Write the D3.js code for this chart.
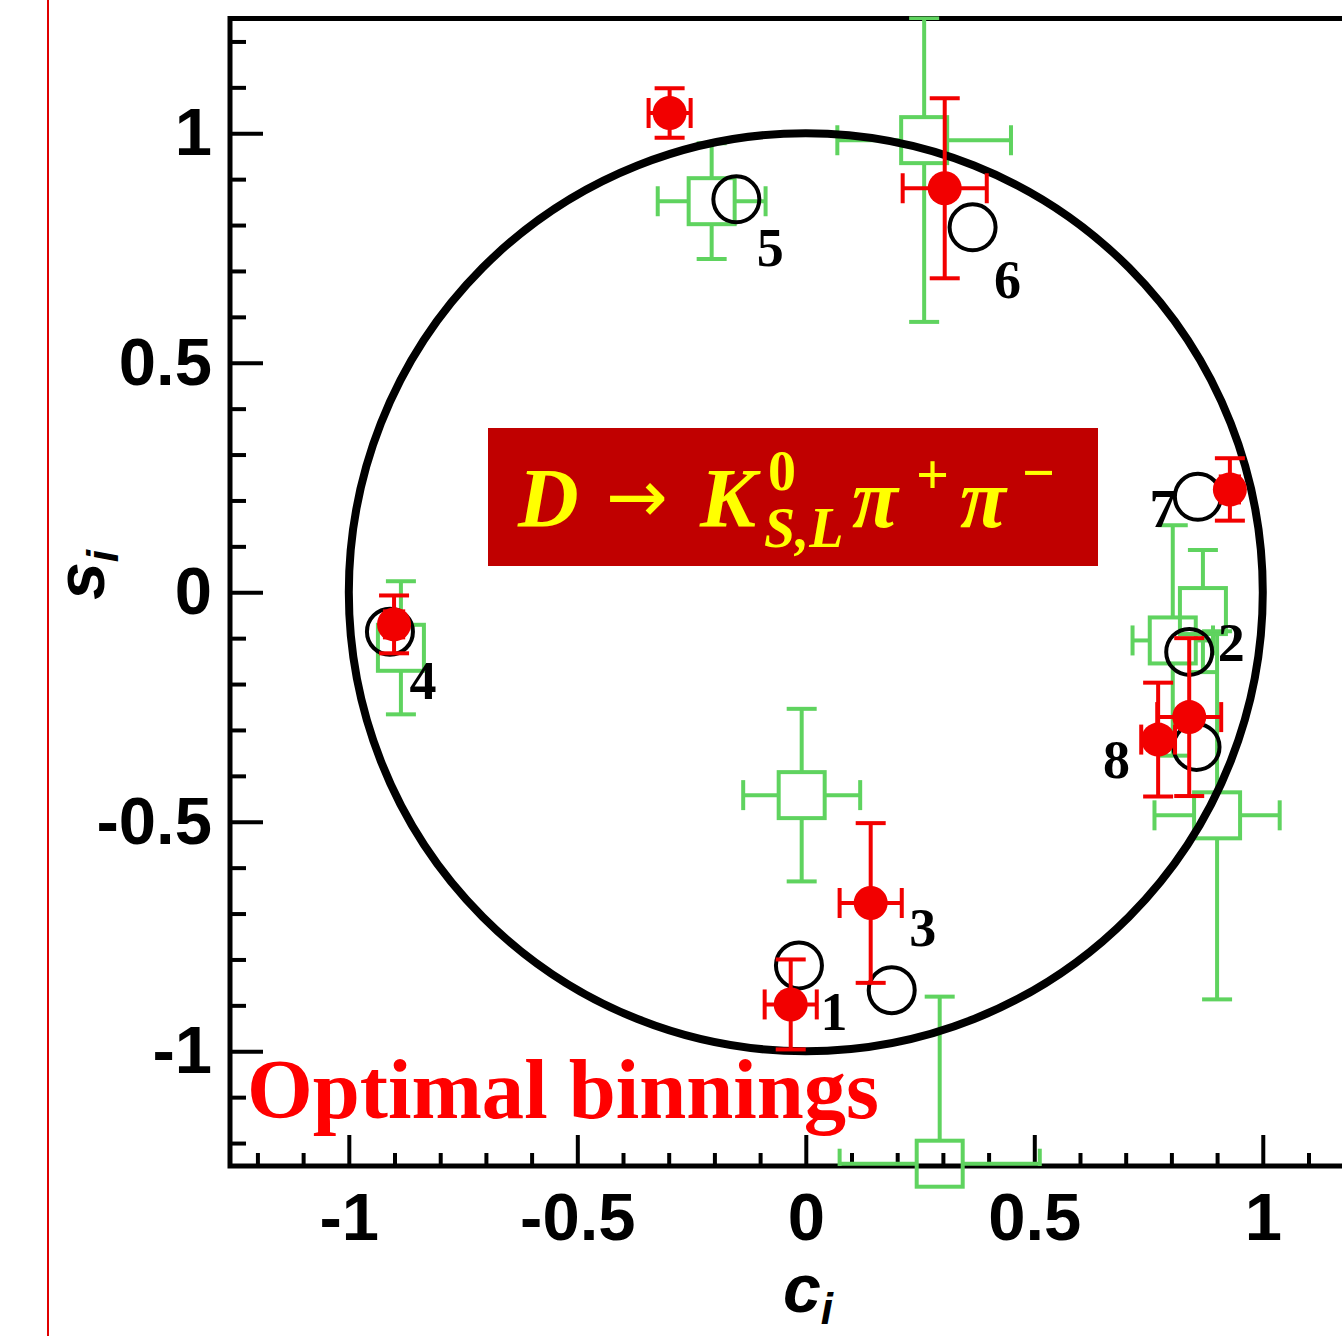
<!DOCTYPE html>
<html>
<head>
<meta charset="utf-8">
<script src="https://cdn.jsdelivr.net/npm/d3@7"></script>
<style>
  html, body { margin: 0; padding: 0; background: #fff; }
  svg { display: block; }
</style>
</head>
<body>
<svg id="chart" width="1342" height="1336"></svg>
<script>
// Bin numbers
const bins = [1, 2, 3, 4, 5, 6, 7, 8];

// Model expectation per bin (open black circles)
const modelC = [-0.015, 0.839, 0.188, -0.910, -0.152, 0.365, 0.858, 0.855];
const modelS = [-0.813, -0.130, -0.867, -0.086, 0.856, 0.795, 0.208, -0.337];

// Measurement with optimal binning (red filled circles)
const redC    = [-0.033, 0.839, 0.142, -0.901, -0.298, 0.304, 0.928, 0.771];
const redS    = [-0.898, -0.272, -0.677, -0.070, 1.044, 0.880, 0.224, -0.321];
const redCErr = [0.057, 0.070, 0.068, 0.020, 0.046, 0.092, 0.020, 0.037];
const redSErr = [0.098, 0.172, 0.174, 0.063, 0.054, 0.196, 0.068, 0.124];

// Earlier measurement (open green squares)
const greenC      = [-0.009, 0.869, 0.293, -0.886, -0.206, 0.259, 0.803, 0.900];
const greenS      = [-0.442, -0.041, -1.245, -0.121, 0.852, 0.985, -0.105, -0.486];
const greenCErr   = [0.128, 0.040, 0.219, 0.040, 0.118, 0.190, 0.088, 0.137];
const greenSErrUp = [0.188, 0.133, 0.364, 0.145, 0.126, 0.266, 0.251, 0.401];
const greenSErrDn = [0.188, 0.133, 0.364, 0.145, 0.126, 0.396, 0.251, 0.401];

// Axis ticks
const majorTicks = [-1, -0.5, 0, 0.5, 1];
const majorLabels = ["-1", "-0.5", "0", "0.5", "1"];
const minorTicks = [-1.2, -1.1, -0.9, -0.8, -0.7, -0.6, -0.4, -0.3, -0.2, -0.1,
                    0.1, 0.2, 0.3, 0.4, 0.6, 0.7, 0.8, 0.9, 1.1, 1.2];

// Label placement for the bin numbers (pixel offset from the open circle)
const binLabelOffset = [[35, 47], [42, -9], [31, -62], [33, 49], [34, 49], [35, 53], [-35, 12], [-80, 13]];

const svg = d3.select("#chart");
const W = 1342, H = 1336;
svg.append("rect").attr("width", W).attr("height", H).attr("fill", "#fff");

const x = d3.scaleLinear().domain([-1.26, 1.26]).range([230, 1381.6]);
const y = d3.scaleLinear().domain([-1.25, 1.25]).range([1166, 18.5]);

const tickFont = "'Liberation Sans', Arial, Helvetica, sans-serif";
const serif = "'Liberation Serif', 'Times New Roman', serif";

// clip for error bars
svg.append("defs").append("clipPath").attr("id", "plotClip")
  .append("rect")
  .attr("x", x(-1.26)).attr("y", y(1.25) - 2)
  .attr("width", x(1.26) - x(-1.26)).attr("height", y(-1.25) - y(1.25) + 2);

// ---- axes ----
function styleAxis(g, width) {
  g.select(".domain").remove();
  g.selectAll(".tick line").attr("stroke", "#000").attr("stroke-width", width);
  g.selectAll(".tick text")
    .attr("fill", "#000")
    .attr("font-family", tickFont)
    .attr("font-weight", "bold")
    .attr("font-size", 67);
}
const fmt = d => majorLabels[majorTicks.indexOf(d)];

const gxMinor = svg.append("g").attr("transform", `translate(0,${y(-1.25)})`)
  .call(d3.axisBottom(x).tickValues(minorTicks).tickSize(-13).tickSizeOuter(0).tickFormat(""));
styleAxis(gxMinor, 4);
const gxMajor = svg.append("g").attr("transform", `translate(0,${y(-1.25)})`)
  .call(d3.axisBottom(x).tickValues(majorTicks).tickSize(-31).tickSizeOuter(0).tickPadding(26).tickFormat(fmt));
styleAxis(gxMajor, 4);

const gyMinor = svg.append("g").attr("transform", `translate(${x(-1.26)},0)`)
  .call(d3.axisLeft(y).tickValues(minorTicks).tickSize(-16).tickSizeOuter(0).tickFormat(""));
styleAxis(gyMinor, 4);
const gyMajor = svg.append("g").attr("transform", `translate(${x(-1.26)},0)`)
  .call(d3.axisLeft(y).tickValues(majorTicks).tickSize(-33).tickSizeOuter(0).tickPadding(18).tickFormat(fmt));
styleAxis(gyMajor, 4);

// frame
svg.append("rect")
  .attr("x", x(-1.26)).attr("y", y(1.25))
  .attr("width", x(1.26) - x(-1.26)).attr("height", y(-1.25) - y(1.25))
  .attr("fill", "none").attr("stroke", "#000").attr("stroke-width", 5);

// axis titles
svg.append("text")
  .attr("x", 808).attr("y", 1312)
  .attr("text-anchor", "middle")
  .attr("font-family", tickFont).attr("font-weight", "bold").attr("font-style", "italic")
  .attr("font-size", 68)
  .html("c<tspan font-size='44' dy='12'>i</tspan>");
svg.append("text")
  .attr("transform", "translate(104,575) rotate(-90)")
  .attr("text-anchor", "middle")
  .attr("font-family", tickFont).attr("font-weight", "bold").attr("font-style", "italic")
  .attr("font-size", 68)
  .html("s<tspan font-size='44' dy='14'>i</tspan>");

// ---- green squares with error bars ----
const green = bins.map((b, i) => ({
  c: greenC[i], s: greenS[i], ce: greenCErr[i], up: greenSErrUp[i], dn: greenSErrDn[i]
}));
const GREEN = "#5fd35f";
const half = 23, cap = 15;
const gGreenBars = svg.append("g").attr("clip-path", "url(#plotClip)")
  .attr("stroke", GREEN).attr("stroke-width", 4).attr("fill", "none");
green.forEach(d => {
  const cx = x(d.c), cy = y(d.s);
  const xl = x(d.c - d.ce), xr = x(d.c + d.ce);
  const yt = y(d.s + d.up), yb = y(d.s - d.dn);
  if (cx - xl > half) {
    gGreenBars.append("line").attr("x1", xl).attr("x2", cx - half).attr("y1", cy).attr("y2", cy);
    gGreenBars.append("line").attr("x1", xl).attr("x2", xl).attr("y1", cy - cap).attr("y2", cy + cap);
  }
  if (xr - cx > half) {
    gGreenBars.append("line").attr("x1", cx + half).attr("x2", xr).attr("y1", cy).attr("y2", cy);
    gGreenBars.append("line").attr("x1", xr).attr("x2", xr).attr("y1", cy - cap).attr("y2", cy + cap);
  }
  if (cy - yt > half) {
    gGreenBars.append("line").attr("x1", cx).attr("x2", cx).attr("y1", yt).attr("y2", cy - half);
    gGreenBars.append("line").attr("x1", cx - cap).attr("x2", cx + cap).attr("y1", yt).attr("y2", yt);
  }
  if (yb - cy > half) {
    gGreenBars.append("line").attr("x1", cx).attr("x2", cx).attr("y1", cy + half).attr("y2", yb);
    gGreenBars.append("line").attr("x1", cx - cap).attr("x2", cx + cap).attr("y1", yb).attr("y2", yb);
  }
});
svg.append("g").selectAll("rect").data(green).join("rect")
  .attr("x", d => x(d.c) - half).attr("y", d => y(d.s) - half)
  .attr("width", 2 * half).attr("height", 2 * half)
  .attr("fill", "none").attr("stroke", GREEN).attr("stroke-width", 4);

// ---- unit circle c^2 + s^2 = 1 ----
svg.append("ellipse")
  .attr("cx", x(0)).attr("cy", y(0))
  .attr("rx", x(1) - x(0)).attr("ry", y(0) - y(1))
  .attr("fill", "none").attr("stroke", "#000").attr("stroke-width", 8);

// ---- model points ----
const model = bins.map((b, i) => ({ bin: b, c: modelC[i], s: modelS[i] }));
svg.append("g").selectAll("circle").data(model).join("circle")
  .attr("cx", d => x(d.c)).attr("cy", d => y(d.s)).attr("r", 23)
  .attr("fill", "none").attr("stroke", "#000").attr("stroke-width", 4);

// ---- red measurement ----
const RED = "#f20000";
const red = bins.map((b, i) => ({ c: redC[i], s: redS[i], ce: redCErr[i], se: redSErr[i] }));
const gRedBars = svg.append("g").attr("clip-path", "url(#plotClip)")
  .attr("stroke", RED).attr("stroke-width", 4).attr("fill", "none");
red.forEach(d => {
  const cx = x(d.c), cy = y(d.s);
  const xl = x(d.c - d.ce), xr = x(d.c + d.ce);
  const yt = y(d.s + d.se), yb = y(d.s - d.se);
  gRedBars.append("line").attr("x1", xl).attr("x2", xr).attr("y1", cy).attr("y2", cy);
  gRedBars.append("line").attr("x1", xl).attr("x2", xl).attr("y1", cy - cap).attr("y2", cy + cap);
  gRedBars.append("line").attr("x1", xr).attr("x2", xr).attr("y1", cy - cap).attr("y2", cy + cap);
  gRedBars.append("line").attr("x1", cx).attr("x2", cx).attr("y1", yt).attr("y2", yb);
  gRedBars.append("line").attr("x1", cx - cap).attr("x2", cx + cap).attr("y1", yt).attr("y2", yt);
  gRedBars.append("line").attr("x1", cx - cap).attr("x2", cx + cap).attr("y1", yb).attr("y2", yb);
});
svg.append("g").selectAll("circle").data(red).join("circle")
  .attr("cx", d => x(d.c)).attr("cy", d => y(d.s)).attr("r", 17)
  .attr("fill", RED);

// ---- bin numbers ----
svg.append("g").selectAll("text").data(model).join("text")
  .attr("x", (d, i) => x(d.c) + binLabelOffset[i][0])
  .attr("y", (d, i) => y(d.s) + binLabelOffset[i][1])
  .attr("text-anchor", "middle").attr("dominant-baseline", "central")
  .attr("font-family", serif)
  .attr("font-weight", "bold").attr("font-size", 54).attr("fill", "#000")
  .text(d => d.bin);

// ---- decay channel box ----
svg.append("rect").attr("x", 488).attr("y", 428).attr("width", 610).attr("height", 138)
  .attr("fill", "#c00000");
const formula = svg.append("text")
  .attr("font-family", serif).attr("font-weight", "bold")
  .attr("fill", "#ffff00");
function part(txt, px, py, size, italic, family, weight) {
  formula.append("tspan").attr("x", px).attr("y", py)
    .attr("font-size", size)
    .attr("font-style", italic ? "italic" : "normal")
    .attr("font-family", family || serif)
    .attr("font-weight", weight || "bold")
    .text(txt);
}
part("D", 518, 527, 84, true);
part("\u2192", 606, 522, 74, false, "'DejaVu Sans', sans-serif", "normal");
part("K", 700, 527, 84, true);
part("0", 768, 490, 56, false);
part("S,L", 764, 547, 56, true);
part("\u03C0", 852, 527, 84, true);
part("+", 916, 494, 58, false);
part("\u03C0", 960, 527, 84, true);
part("\u2212", 1022, 492, 58, false);

// ---- binning note ----
svg.append("text").attr("x", 247).attr("y", 1118)
  .attr("font-family", serif).attr("font-weight", "bold").attr("font-size", 85)
  .attr("fill", "#ff0000").attr("textLength", 632).attr("lengthAdjust", "spacingAndGlyphs")
  .text("Optimal binnings");

// slide margin rule
svg.append("line").attr("x1", 48).attr("x2", 48).attr("y1", 0).attr("y2", H)
  .attr("stroke", "#e00000").attr("stroke-width", 2);
</script>
</body>
</html>
